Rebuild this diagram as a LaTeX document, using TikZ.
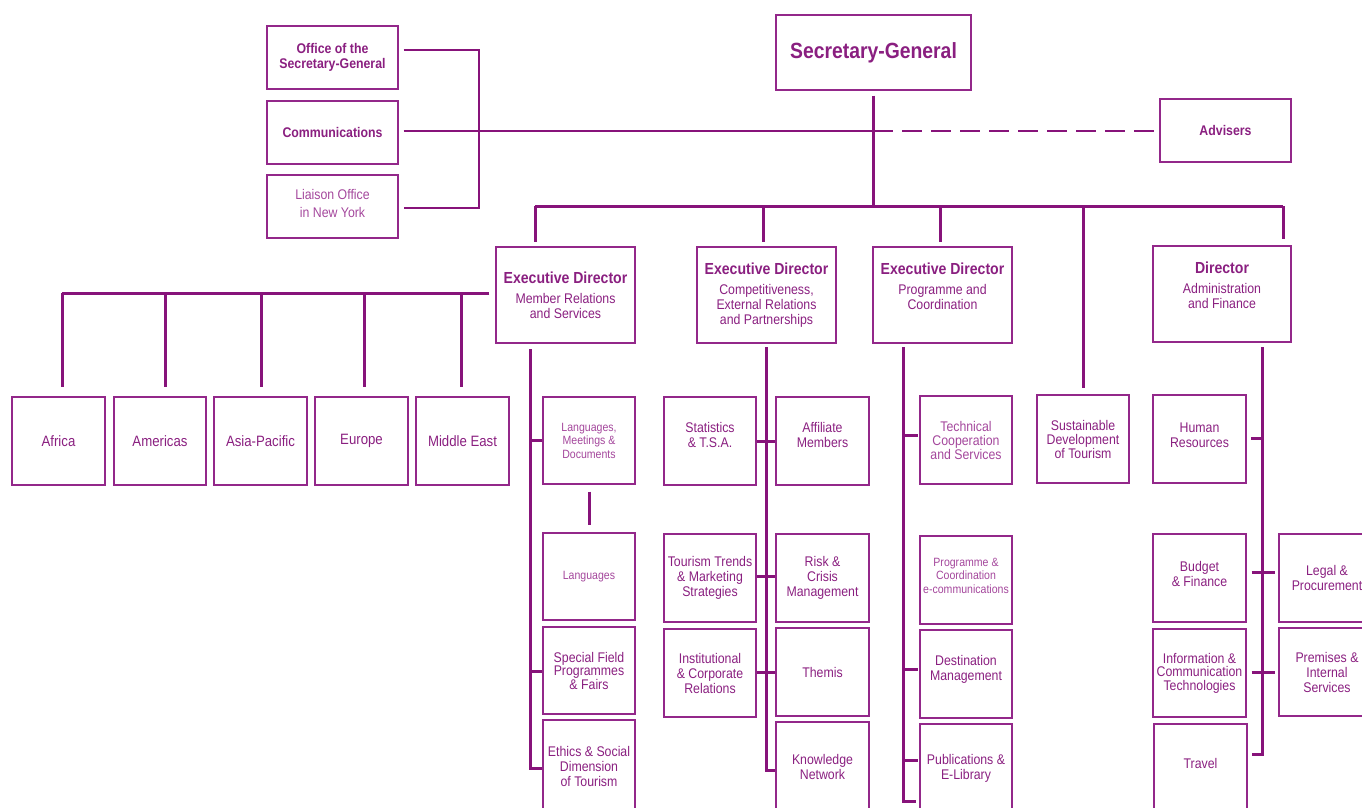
\documentclass[tikz,border=0pt]{standalone}
\usepackage{fontspec}
\setmainfont[FakeStretch=0.88]{Liberation Sans}
\definecolor{ln}{HTML}{87137A}
\definecolor{boxc}{HTML}{93288A}
\definecolor{txt}{HTML}{8A1F80}
\definecolor{txtl}{HTML}{A4479C}
\newcommand\fs[2]{\fontsize{#1}{#2}\selectfont}
\newcommand\mybox[6][]{\node[box,#1,minimum width={#4-#2},minimum height={#5-#3}] (#6) at ({(#2+#4)/2},{(#3+#5)/2})}
\tikzset{
  box/.style={draw=boxc, line width=1.4pt, inner sep=1pt, align=center, text=txt, font=\fs{14}{15}},
  lite/.style={text=txtl},
  trunk/.style={draw=ln, line width=3pt},
  thinl/.style={draw=ln, line width=1.4pt},
  dashl/.style={draw=ln, line width=1.4pt, dash pattern=on 20pt off 9pt},
}
\begin{document}
\begin{tikzpicture}[x=1pt,y=-1pt]
\useasboundingbox (0,0) rectangle (1362,807);
\clip (0,0) rectangle (1362,807);

% top offices
\mybox{267}{26}{398}{89}{osg} {\bfseries Office of the\\\bfseries Secretary-General};
\mybox{267}{101}{398}{164}{com} {\bfseries Communications};
\mybox[lite,font=\fs{14}{18}]{267}{175}{398}{238}{lia} {Liaison Office\\in New York\\[-11pt]};
\mybox[font=\fs{22}{24}]{776}{15}{971}{90}{sg} {\bfseries Secretary-General};
\mybox{1160}{99}{1291}{162}{adv} {\bfseries Advisers};

% directors
\mybox{496}{247}{635}{343}{ed1} {{\fs{16}{20}\bfseries Executive Director}\\[5pt]Member Relations\\and Services};
\mybox{697}{247}{836}{343}{ed2} {{\fs{16}{20}\bfseries Executive Director}\\[5pt]Competitiveness,\\External Relations\\and Partnerships};
\mybox{873}{247}{1012}{343}{ed3} {{\fs{16}{20}\bfseries Executive Director}\\[5pt]Programme and\\Coordination\\[2pt]};
\mybox{1153}{246}{1291}{342}{dir} {{\fs{16}{20}\bfseries Director}\\[5pt]Administration\\and Finance\\[2pt]};

% regions
\mybox[font=\fs{15}{16}]{12}{397}{105}{485}{afr} {Africa};
\mybox[font=\fs{15}{16}]{114}{397}{206}{485}{ame} {Americas};
\mybox[font=\fs{15}{16}]{214}{397}{307}{485}{asp} {Asia-Pacific};
\mybox[font=\fs{15}{16}]{315}{397}{408}{485}{eur} {Europe};
\mybox[font=\fs{15}{16}]{416}{397}{509}{485}{mde} {Middle East};

% ED1 column
\mybox[lite,font=\fs{12}{13.5}]{543}{397}{635}{484}{lmd} {Languages,\\Meetings \&\\Documents};
\mybox[lite,font=\fs{12}{13.5}]{543}{533}{635}{620}{lan} {Languages};
\mybox[font=\fs{14}{13.5}]{543}{627}{635}{714}{sfp} {Special Field\\Programmes\\\& Fairs};
\mybox{543}{720}{635}{812}{eth} {Ethics \& Social\\Dimension\\of Tourism};

% ED2 columns
\mybox{664}{397}{756}{485}{sta} {Statistics\\\& T.S.A.\\[-3pt]};
\mybox{664}{534}{756}{622}{ttm} {Tourism Trends\\\& Marketing\\Strategies};
\mybox{664}{629}{756}{717}{icr} {Institutional\\\& Corporate\\Relations};
\mybox{776}{397}{869}{485}{aff} {Affiliate\\Members\\[-3pt]};
\mybox{776}{534}{869}{622}{rcm} {Risk \&\\Crisis\\Management};
\mybox{776}{628}{869}{716}{the} {Themis};
\mybox{776}{722}{869}{812}{kno} {Knowledge\\Network};

% ED3 column
\mybox[lite,font=\fs{14}{14}]{920}{396}{1012}{484}{tcs} {Technical\\Cooperation\\and Services};
\mybox[lite,font=\fs{12}{13.5}]{920}{536}{1012}{624}{pce} {Programme \&\\Coordination\\e-communications\\[-4.5pt]};
\mybox{920}{630}{1012}{718}{dm} {Destination\\Management\\[-3pt]};
\mybox{920}{724}{1012}{812}{pub} {Publications \&\\E-Library};
\mybox[font=\fs{14}{14}]{1037}{395}{1129}{483}{sdt} {Sustainable\\Development\\of Tourism};

% Director columns
\mybox{1153}{395}{1246}{483}{hr} {Human\\Resources\\[-7pt]};
\mybox{1153}{534}{1246}{622}{bf} {Budget\\\& Finance\\[-6pt]};
\mybox[font=\fs{14}{13.5}]{1153}{629}{1246}{717}{ict} {Information \&\\Communication\\Technologies};
\mybox{1154}{724}{1247}{812}{tra} {Travel\\[-5pt]};
\mybox{1279}{534}{1375}{622}{leg} {Legal \&\hspace{13pt}\\Procurement\hspace{13pt}};
\mybox{1279}{628}{1375}{716}{pis} {Premises \&\hspace{13pt}\\Internal\hspace{13pt}\\Services\hspace{13pt}};

% ---- connectors ----
\coordinate (ob) at (479,50);
\coordinate (lb) at (479,208);
\coordinate (cj) at (873,131);
\draw[thinl] (osg.east |- ob) ++(5,0) -- (ob) -- (lb) -- ([xshift=5pt]lia.east |- lb);
\draw[thinl] ([xshift=5pt]com.east |- cj) -- (cj);
\draw[dashl] (cj) -- ([xshift=-2pt]adv.west |- cj);

\coordinate (bus) at (873,206);
\coordinate (busL) at (535,206);
\coordinate (busR) at (1283,206);
\draw[trunk] ([yshift=-5pt]sg.south -| bus) -- (bus);
\draw[trunk] (busL) -- (busR);
\draw[trunk] (busL) -- ([yshift=4pt]ed1.north -| busL);
\draw[trunk] (763,206) -- ([yshift=4pt]ed2.north -| 763,0);
\draw[trunk] (940,206) -- ([yshift=4pt]ed3.north -| 940,0);
\draw[trunk] (1083,206) -- ([yshift=6pt]sdt.north -| 1083,0);
\draw[trunk] (busR) -- ([yshift=6pt]dir.north -| busR);

% regions bus
\coordinate (rb) at (62,293);
\draw[trunk] ([xshift=-6pt]ed1.west |- rb) -- (rb);
\foreach \n/\x in {afr/62,ame/165,asp/261,eur/364,mde/461}
  \draw[trunk] (\x,293) -- ([yshift=9pt]\n.north -| \x,0);

% ED1 trunk
\coordinate (e1a) at (530,349);
\coordinate (e1b) at (530,768);
\draw[trunk] (e1a) -- (e1b) -- (eth.west |- e1b);
\draw[trunk] (530,440) -- (lmd.west |- 0,440);
\draw[trunk] (530,671) -- (sfp.west |- 0,671);
\draw[trunk] ([yshift=-7pt]lmd.south) -- ([yshift=7pt]lan.north);

% ED2 trunk
\coordinate (e2a) at (766,347);
\coordinate (e2b) at (766,770);
\draw[trunk] (e2a) -- (e2b) -- (kno.west |- e2b);
\draw[trunk] (sta.east |- 0,441) -- (aff.west |- 0,441);
\draw[trunk] (ttm.east |- 0,576) -- (rcm.west |- 0,576);
\draw[trunk] (icr.east |- 0,672) -- (the.west |- 0,672);

% ED3 trunk
\coordinate (e3a) at (903,347);
\coordinate (e3b) at (903,801);
\draw[trunk] (e3a) -- (e3b) -- ([xshift=-3pt]pub.west |- e3b);
\draw[trunk] (903,435) -- ([xshift=-1pt]tcs.west |- 0,435);
\draw[trunk] (903,669) -- ([xshift=-1pt]dm.west |- 0,669);
\draw[trunk] (903,760) -- ([xshift=-1pt]pub.west |- 0,760);

% Director trunk
\coordinate (d1) at (1262,347);
\coordinate (d2) at (1262,754);
\draw[trunk] (d1) -- (d2) -- ([xshift=4pt]tra.east |- d2);
\draw[trunk] (1262,438) -- ([xshift=4pt]hr.east |- 0,438);
\draw[trunk] ([xshift=5pt]bf.east |- 0,572) -- ([xshift=-3pt]leg.west |- 0,572);
\draw[trunk] ([xshift=5pt]ict.east |- 0,672) -- ([xshift=-3pt]pis.west |- 0,672);
\end{tikzpicture}
\end{document}
